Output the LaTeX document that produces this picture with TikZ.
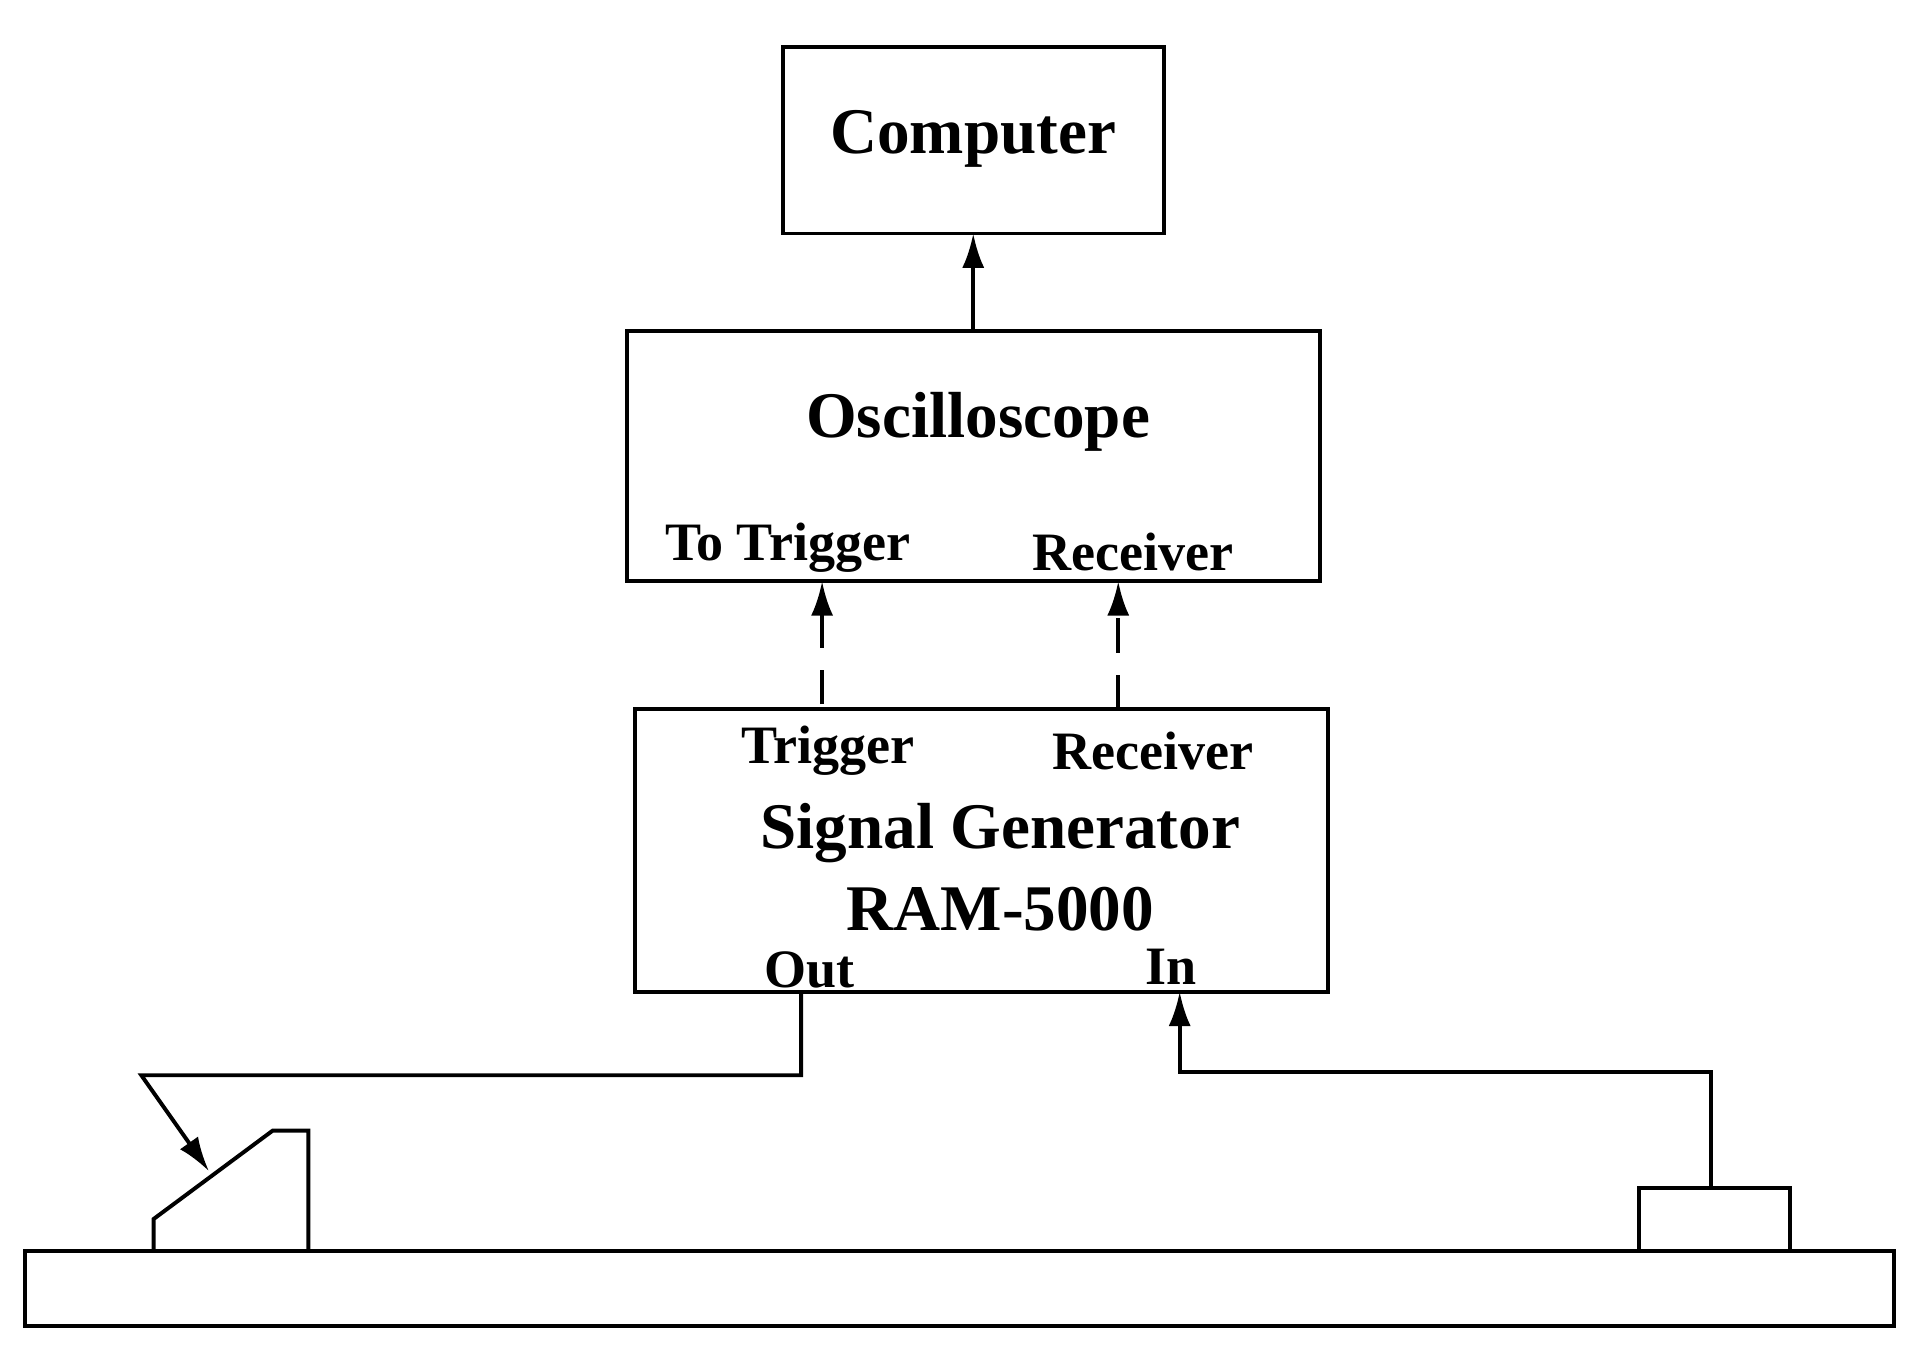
\documentclass[tikz,border=0pt]{standalone}
\usepackage{fontspec}
\setmainfont{Liberation Serif}
\usetikzlibrary{arrows.meta}
\begin{document}
\begin{tikzpicture}[x=0.5pt,y=-0.5pt,line width=1.6pt,
  lbl/.style={font=\bfseries\fontsize{22}{24}\selectfont,inner sep=0pt},
  big/.style={font=\bfseries\fontsize{26.5}{28}\selectfont,inner sep=0pt},
  arr/.style={-{Latex[length=14pt,width=9pt]}}]
\useasboundingbox (0,0) rectangle (1560,1102);
\draw (637,38) rectangle (947,190);
\draw (510,269) rectangle (1074,473);
\draw (517,577) rectangle (1081,807);
\coordinate (cb) at (792,190); \coordinate (ot) at (792,269);
\draw[arr] (ot) -- (cb);
\coordinate (t1) at (669,573); \coordinate (t2) at (669,473);
\coordinate (r1) at (910,577); \coordinate (r2) at (910,473);
\draw[arr,dash pattern=on 14pt off 9pt] (t1) -- (t2);
\draw[arr,dash pattern=on 14pt off 9pt] (r1) -- (r2);
\node[big] (comp) at (792,113) {Computer};
\node[big] (osc) at (796,343) {Oscilloscope};
\node[lbl] (tt) at (641,446) {To Trigger};
\node[lbl] (rc) at (922,449) {Receiver};
\node[lbl] (tg) at (674,611) {Trigger};
\node[lbl] (rc2) at (938,611) {Receiver};
\node[big] (sg) at (814,678) {Signal Generator};
\node[big] (ram) at (814,740) {RAM-5000};
\node[lbl] (out) at (659,789) {Out};
\node[lbl] (in) at (953,787) {In};
\draw (20,1018) rectangle (1541,1079);
\draw (125,1018) -- (125,992) -- (222,920) -- (251,920) -- (251,1018);
\draw (1334,1018) -- (1334,967) -- (1457,967) -- (1457,1018);
\coordinate (o1) at (652,807); \coordinate (pr) at (170,953);
\draw[arr] (o1) -- (652,875) -- (115,875) -- (pr);
\coordinate (i1) at (1392,967); \coordinate (i2) at (960,807);
\draw[arr] (i1) -- (1392,872) -- (960,872) -- (i2);
\end{tikzpicture}
\end{document}
